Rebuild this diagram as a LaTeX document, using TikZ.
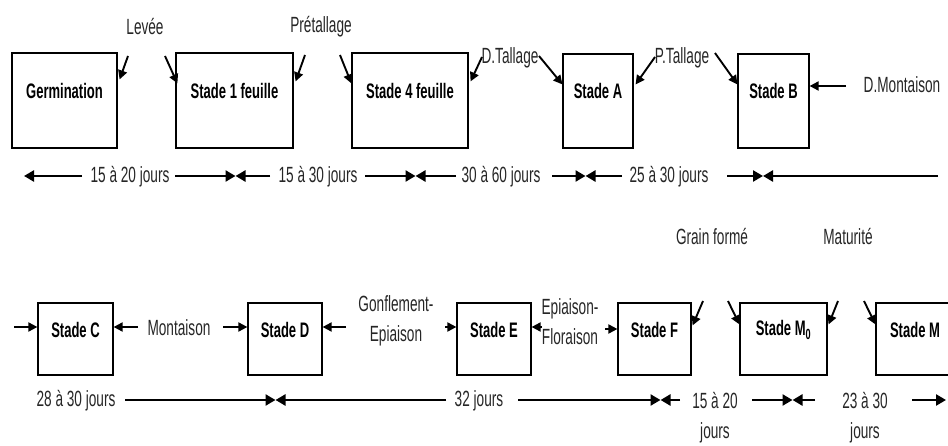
\documentclass[tikz,border=0pt]{standalone}
\usepackage{fontspec}
\setmainfont[FakeStretch=0.62]{Liberation Sans}
\usetikzlibrary{arrows.meta,calc}
\begin{document}
\begin{tikzpicture}[x=1pt,y=-1pt,
  stagebox/.style={draw,line width=1.2pt,inner sep=0pt},
  stagetext/.style={font=\fontsize{21}{24}\selectfont\bfseries,text=black,inner sep=0pt},
  lab/.style={font=\fontsize{22}{30}\selectfont,text=black!85,align=center,inner sep=0pt},
  arr/.style={line width=1.9pt,-{Triangle[length=9pt,width=9pt]}},
  dur/.style={line width=2.5pt,-{Triangle[length=10pt,width=11pt]}}]
\clip (0,0) rectangle (948,446);
% ---------- top row boxes
\node[stagebox,minimum width=105pt,minimum height=95pt,label={[stagetext,yshift=10pt]center:Germination}] (germ) at (64.5,100.5) {};
\node[stagebox,minimum width=117pt,minimum height=95pt,label={[stagetext,yshift=10pt]center:Stade 1 feuille}] (s1) at (234.5,100.5) {};
\node[stagebox,minimum width=116pt,minimum height=95pt,label={[stagetext,yshift=10pt]center:Stade 4 feuille}] (s4) at (410,100.5) {};
\node[stagebox,minimum width=70pt,minimum height=94pt,label={[stagetext,yshift=10pt]center:Stade A}] (sA) at (598,101) {};
\node[stagebox,minimum width=71pt,minimum height=94pt,label={[stagetext,yshift=10pt]center:Stade B}] (sB) at (773.5,101) {};
% ---------- top labels
\node[lab] (levee) at (145,27) {Levée};
\node[lab] (pretal) at (321,27) {Prétallage};
\node[lab] (dtal) at (510,58) {D.Tallage};
\node[lab] (ptal) at (682,58) {P.Tallage};
\node[lab] (dmont) at (902,85) {D.Montaison};
% ---------- top diagonal arrows
\coordinate (a1) at (128,56);
\coordinate (a2) at (165,56);
\coordinate (a3) at (305,55);
\coordinate (a4) at (340,55);
\coordinate (a5) at (482,57);
\coordinate (a6) at (539,56);
\coordinate (a7) at (655,57);
\coordinate (a8) at (715,53);
\coordinate (a9) at (846,86);
\draw[arr] (a1) -- ($(germ.north east)+(2,27)$);
\draw[arr] (a2) -- ($(s1.north west)+(2,31)$);
\draw[arr] (a3) -- ($(s1.north east)+(2,29)$);
\draw[arr] (a4) -- ($(s4.north west)+(0,31)$);
\draw[arr] (a5) -- ($(s4.north east)+(2,29)$);
\draw[arr] (a6) -- ($(sA.north west)+(0,31)$);
\draw[arr] (a7) -- ($(sA.north east)+(2,31)$);
\draw[arr] (a8) -- ($(sB.north west)+(0,31)$);
\draw[arr] (a9) -- (sB.east |- a9);
% ---------- top durations
\node[lab] (d1) at (130,177) {15 à 20 jours};
\node[lab] (d2) at (318,177) {15 à 30 jours};
\node[lab] (d3) at (501,177) {30 à 60 jours};
\node[lab] (d4) at (669,177) {25 à 30 jours};
\coordinate (t0) at (24,176);
\coordinate (t1a) at (82,176);
\coordinate (t1b) at (175,176);
\coordinate (m1) at (235.5,176);
\coordinate (t2a) at (270,176);
\coordinate (t2b) at (365,176);
\coordinate (m2) at (415.5,176);
\coordinate (t3a) at (456,176);
\coordinate (t3b) at (552,176);
\coordinate (m3) at (585.5,176);
\coordinate (t4a) at (622,176);
\coordinate (t4b) at (727,176);
\coordinate (m4) at (763,176);
\coordinate (t5) at (938,176);
\draw[dur] (t1a) -- (t0);
\draw[dur] (t1b) -- (m1);
\draw[dur] (t2a) -- (m1);
\draw[dur] (t2b) -- (m2);
\draw[dur] (t3a) -- (m2);
\draw[dur] (t3b) -- (m3);
\draw[dur] (t4a) -- (m3);
\draw[dur] (t4b) -- (m4);
\draw[dur] (t5) -- (m4);
% ---------- middle labels
\node[lab] (grain) at (712,237) {Grain formé};
\node[lab] (matur) at (848,237) {Maturité};
% ---------- bottom row boxes
\node[stagebox,minimum width=75pt,minimum height=72pt,label={[stagetext,yshift=9pt]center:Stade C}] (sC) at (75.5,339) {};
\node[stagebox,minimum width=74pt,minimum height=72pt,label={[stagetext,yshift=9pt]center:Stade D}] (sD) at (285,339) {};
\node[stagebox,minimum width=74pt,minimum height=72pt,label={[stagetext,yshift=9pt]center:Stade E}] (sE) at (494,339) {};
\node[stagebox,minimum width=73pt,minimum height=72pt,label={[stagetext,yshift=9pt]center:Stade F}] (sF) at (654.5,339) {};
\node[stagebox,minimum width=87pt,minimum height=72pt,label={[stagetext,yshift=9pt]center:Stade M\textsubscript{0}}] (sM0) at (783.5,339) {};
\node[stagebox,minimum width=84pt,minimum height=72pt,label={[stagetext,yshift=9pt,xshift=-3pt]center:Stade M}] (sM) at (918,339) {};
% ---------- bottom labels
\node[lab] (mont) at (179,328) {Montaison};
\node[lab] (gonf) at (396,321) {Gonflement-\\Epiaison};
\node[lab] (epif) at (570,322) {Epiaison-\\Floraison};
% ---------- bottom arrows
\coordinate (b1) at (14,327);
\coordinate (b2) at (138,327);
\coordinate (b3) at (223,327);
\coordinate (b4) at (346,327);
\coordinate (b5) at (445,327);
\coordinate (b6) at (542,327);
\coordinate (b7) at (605,329);
\draw[arr] (b1) -- (sC.west |- b1);
\draw[arr] (b2) -- (sC.east |- b2);
\draw[arr] (b3) -- (sD.west |- b3);
\draw[arr] (b4) -- (sD.east |- b4);
\draw[arr] (b5) -- (sE.west |- b5);
\draw[arr] (b6) -- (sE.east |- b6);
\draw[arr] (b7) -- (sF.west |- b7);
\coordinate (c1) at (703,301);
\coordinate (c2) at (728,301);
\coordinate (c3) at (838,301);
\coordinate (c4) at (864,301);
\draw[arr] (c1) -- ($(sF.north east)+(1,23)$);
\draw[arr] (c2) -- ($(sM0.north west)+(0,22)$);
\draw[arr] (c3) -- ($(sM0.north east)+(1,22)$);
\draw[arr] (c4) -- ($(sM.north west)+(0,22)$);
% ---------- bottom durations
\node[lab] (e1) at (76,401) {28 à 30 jours};
\node[lab] (e2) at (479,401) {32 jours};
\node[lab,anchor=north] (e3) at (715,392) {15 à 20\\jours};
\node[lab,anchor=north] (e4) at (865,392) {23 à 30\\jours};
\coordinate (u1a) at (125,400);
\coordinate (n1) at (275.5,400);
\coordinate (u2a) at (446,400);
\coordinate (u2b) at (518,400);
\coordinate (n2) at (660.5,400);
\coordinate (u3a) at (680,400);
\coordinate (u3b) at (752,400);
\coordinate (n3) at (792.5,400);
\coordinate (u4a) at (815,400);
\coordinate (u4b) at (912,400);
\coordinate (u5) at (946,400);
\draw[dur] (u1a) -- (n1);
\draw[dur] (u2a) -- (n1);
\draw[dur] (u2b) -- (n2);
\draw[dur] (u3a) -- (n2);
\draw[dur] (u3b) -- (n3);
\draw[dur] (u4a) -- (n3);
\draw[dur] (u4b) -- (u5);
\end{tikzpicture}
\end{document}
